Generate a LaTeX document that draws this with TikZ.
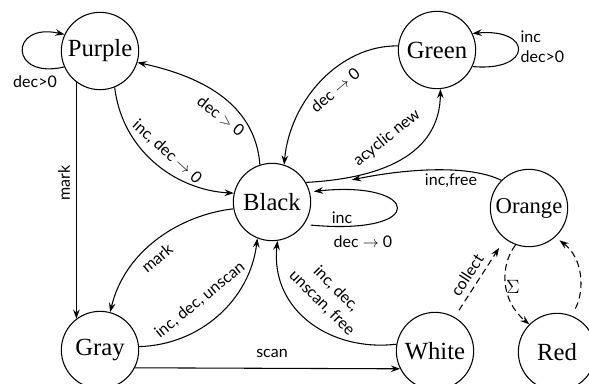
\documentclass[tikz,border=0pt]{standalone}
\usepackage{fontspec}
\setmainfont{Liberation Serif}
\newfontfamily\lblfont{Lato}
\usetikzlibrary{arrows.meta}

\begin{document}
\begin{tikzpicture}[x=0.75pt,y=0.75pt,yscale=-1,xscale=1,
  statenode/.style={draw, circle, line width=0.8pt, minimum size=58pt, inner sep=0pt, font=\fontsize{18.5}{20}\selectfont},
  edgelabel/.style={font=\lblfont\fontsize{12}{15}\selectfont, inner sep=1pt},
  arc/.style={->, line width=0.8pt},
  dasharc/.style={->, line width=0.8pt, dash pattern=on 5pt off 3pt},
  >={Stealth[length=7pt,width=5pt,inset=2.5pt]}]
 \useasboundingbox (0,0) rectangle (589,383);

 % states
 \node[statenode] (purple) at (100,51) {Purple};
 \node[statenode] (green) at (437,50) {Green};
 \node[statenode] (black) at (272,202) {Black};
 \node[statenode] (orange) at (529,208) {\fontsize{17}{20}\selectfont Orange};
 \node[statenode] (gray) at (100,350) {Gray};
 \node[statenode] (white) at (435,351) {White};
 \node[statenode] (red) at (557,352) {Red};

 % purple
 \draw[arc] (purple.204) .. controls (9,80) and (9,22) .. (purple.155);
 \node[edgelabel] (purpleloop) at (35,82) {dec>0};
 \draw[arc] (purple.292) .. controls (122,150) and (175,190) .. (black.167);
 \node[edgelabel, rotate=-42] (purpleinc) at (167,152) {inc, dec $\rightarrow$ 0};
 \draw[arc] (black.108) .. controls (255,100) and (195,75) .. (purple.343);
 \node[edgelabel, rotate=-38] (purpledec) at (221,116) {dec $>$ 0};
 \draw[arc] (purple.233) -- (gray.127);
 \node[edgelabel, rotate=90] (purplemark) at (64,183) {mark};

 % green
 \draw[arc] (green.174) .. controls (340,45) and (290,100) .. (black.72);
 \node[edgelabel, rotate=40] (greendec) at (335,90) {dec $\rightarrow$ 0};
 \draw[arc] (black.30) .. controls (390,178) and (440,150) .. (green.275);
 \node[edgelabel, rotate=39] (acyclic) at (387,138) {acyclic new};
 \draw[arc] (green.-25) .. controls (533,72) and (533,28) .. (green.25);
 \node[edgelabel, anchor=west, align=left] (greenloop) at (519,47) {inc\\dec>0};

 % black
 \draw[arc, shorten <=5pt, shorten >=3pt] (black.-35) .. controls (430,236) and (420,180) .. (black.15);
 \node[edgelabel] (blackinc) at (342,218) {inc};
 \node[edgelabel] (blackdec) at (363,242) {dec $\rightarrow$ 0};
 \draw[arc, shorten >=33pt] (orange.135) .. controls (470,165) and (410,168) .. (black.20);
 \node[edgelabel] (incfree) at (451,181) {inc,free};
 \draw[arc] (black.190) .. controls (180,215) and (125,250) .. (gray.75);
 \node[edgelabel, rotate=40] (blackmark) at (157,258) {mark};

 % gray and white
 \draw[arc] (gray.5) .. controls (200,345) and (250,300) .. (black.248);
 \node[edgelabel, rotate=39] (grayinc) at (200,300) {inc, dec, unscan};
 \draw[arc] (gray.-27) -- (white.207);
 \node[edgelabel] (scan) at (272,353) {scan};
 \draw[arc] (white.170) .. controls (330,352) and (270,310) .. (black.278);
 \node[edgelabel, rotate=-45, align=center] (whiteinc) at (329,296) {inc, dec,\\unscan, free};

 % collection
 \draw[dasharc, shorten <=6pt, shorten >=8pt] (white.60) -- (orange.232);
 \node[edgelabel, rotate=57] (collect) at (467,275) {collect};
 \draw[dasharc] (orange.250) .. controls (500,265) and (500,300) .. (red.135);
 \node[edgelabel, font=\fontsize{15}{18}\selectfont] (sigma) at (513,287) {$\Sigma$};
 \draw[dasharc, shorten <=6pt, shorten >=4pt] (red.68) .. controls (585,290) and (583,258) .. (orange.-48);
\end{tikzpicture}
\end{document}
